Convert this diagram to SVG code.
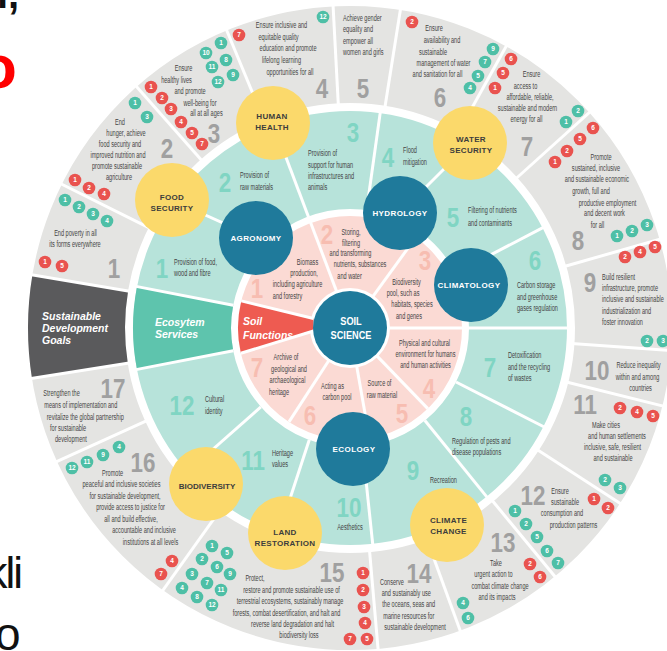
<svg xmlns="http://www.w3.org/2000/svg" width="667" height="651" viewBox="0 0 667 651">
<style>
.t{font-family:'Liberation Sans',Arial,sans-serif;font-size:9px;fill:#444}
.m{text-anchor:middle}
.n{font-family:'Liberation Sans',Arial,sans-serif;font-weight:bold;font-size:28px;text-anchor:middle}
.gn{fill:#a0a0a0}.tn{fill:#80d5c3}.pn{fill:#f7bdb1}
.rd{fill:#e9534f}.gd{fill:#4ebfa6}
.dn{font-family:'Liberation Sans',Arial,sans-serif;font-weight:bold;font-size:6.5px;fill:#fff;text-anchor:middle}
.dv{stroke:#fff;stroke-width:3;fill:none}
.yl{font-family:'Liberation Sans',Arial,sans-serif;font-weight:bold;font-size:8px;fill:#3d3d3d;text-anchor:middle;letter-spacing:.3px}
.bl{font-family:'Liberation Sans',Arial,sans-serif;font-weight:bold;font-size:8px;fill:#fff;text-anchor:middle;letter-spacing:.4px}
.bi{font-family:'Liberation Sans',Arial,sans-serif;font-weight:bold;font-style:italic;font-size:10.5px;fill:#fff}
.yc{fill:#fbd96b}.bc{fill:#1f7a9b}
</style>
<rect width="667" height="651" fill="#fff"/>
<!-- stray slide text -->
<text x="-3" y="8" font-family="'Liberation Sans',Arial,sans-serif" font-weight="bold" font-size="40" fill="#111">i,</text>
<text x="-2" y="88" font-family="'Liberation Sans',Arial,sans-serif" font-weight="bold" font-size="62" fill="#f00" text-anchor="middle">o</text>
<text x="21" y="588" font-family="'Liberation Sans',Arial,sans-serif" font-size="44" fill="#111" text-anchor="end" letter-spacing="-2">kli</text>
<text x="-5" y="650" font-family="'Liberation Sans',Arial,sans-serif" font-size="46" fill="#111">o</text>

<!-- rings -->
<g id="rings">
<circle cx="350" cy="328" r="273.5" fill="none" stroke="#e4e4e2" stroke-width="97"/>
<path d="M32.4,274.9 A322,322 0 0,0 32.0,378.4 L127.8,363.2 A225,225 0 0,1 128.1,290.9 Z" fill="#5a5a5c"/>
<circle cx="350" cy="328" r="168" fill="none" stroke="#b7e3da" stroke-width="98"/>
<path d="M137.0,286.6 A217,217 0 0,0 137.0,369.4 L233.2,350.7 A119,119 0 0,1 233.2,305.3 Z" fill="#5ec4ad"/>
<circle cx="350" cy="328" r="76" fill="none" stroke="#fbdad4" stroke-width="72"/>
<path d="M241.3,300.9 A112,112 0 0,0 240.9,353.2 L313.5,331 L313.5,318.5 Z" fill="#ee5b51"/>
</g>

<g id="connectors" class="dv">
<line x1="130.7" y1="362.7" x2="28.0" y2="379.0"/>
<line x1="131.0" y1="291.4" x2="28.5" y2="274.2"/>
<line x1="151.3" y1="228.9" x2="58.3" y2="182.5"/>
<line x1="202.9" y1="161.7" x2="134.0" y2="83.8"/>
<line x1="265.0" y1="122.9" x2="225.2" y2="26.8"/>
<line x1="338.4" y1="106.3" x2="332.9" y2="2.5"/>
<line x1="384.7" y1="108.7" x2="401.0" y2="6.0"/>
<line x1="457.6" y1="133.8" x2="508.0" y2="42.9"/>
<line x1="515.0" y1="179.5" x2="592.3" y2="109.9"/>
<line x1="563.4" y1="266.8" x2="663.4" y2="238.2"/>
<line x1="571.5" y1="343.5" x2="675.2" y2="350.7"/>
<line x1="565.4" y1="381.7" x2="666.3" y2="406.9"/>
<line x1="536.2" y1="448.9" x2="623.4" y2="505.5"/>
<line x1="491.2" y1="499.3" x2="557.4" y2="579.5"/>
<line x1="425.9" y1="536.6" x2="461.5" y2="634.3"/>
<line x1="369.4" y1="549.2" x2="378.4" y2="652.8"/>
<line x1="221.1" y1="508.7" x2="160.7" y2="593.4"/>
<line x1="148.0" y1="420.1" x2="53.3" y2="463.2"/>
<line x1="233.2" y1="350.7" x2="136.0" y2="369.6"/>
<line x1="233.2" y1="305.3" x2="136.0" y2="286.4"/>
<line x1="337.3" y1="293.2" x2="273" y2="123"/>
<line x1="366.6" y1="210.2" x2="380.3" y2="112.1"/>
<line x1="470" y1="143" x2="400" y2="213"/>
<line x1="172" y1="200" x2="256" y2="238"/>
<line x1="455.6" y1="273.1" x2="543.4" y2="227.4"/>
<line x1="387" y1="328" x2="568" y2="328"/>
<line x1="456.0" y1="382.0" x2="544.2" y2="427.0"/>
<line x1="424.9" y1="420.5" x2="487.2" y2="497.4"/>
<line x1="362.4" y1="446.3" x2="372.8" y2="544.8"/>
<line x1="309.3" y1="439.8" x2="283" y2="520"/>
<line x1="260.9" y1="406.8" x2="200.2" y2="460.5"/>
<line x1="371.7" y1="298.1" x2="415.8" y2="237.4"/>
<line x1="375.7" y1="354.6" x2="427.8" y2="408.6"/>
<line x1="356.4" y1="364.4" x2="369.4" y2="438.3"/>
<line x1="329.8" y1="359.0" x2="289.0" y2="421.9"/>
<line x1="241.3" y1="300.9" x2="313.5" y2="318.5"/>
<line x1="240.9" y1="353.2" x2="313.5" y2="331"/>
</g>

<!-- box labels -->
<g id="sdg-box"><text class="bi" x="42" y="320">Sustainable<tspan x="42" y="332">Development</tspan><tspan x="42" y="344">Goals</tspan></text></g>
<g id="es-box"><text class="bi" x="155" y="326">Ecosytem<tspan x="155" y="338">Services</tspan></text></g>
<g id="sf-box"><text class="bi" x="243" y="325">Soil<tspan x="243" y="339">Functions</tspan></text></g>

<!-- SDG texts -->
<g id="sdg-texts">
<text class="t m" transform="translate(75.5,236) scale(.62,1)"><tspan x="0" y="0">End poverty in all</tspan><tspan x="-0.8" y="11">its forms everywhere</tspan></text>
<text class="t m" transform="translate(120,125) scale(.62,1)"><tspan x="0" y="0">End</tspan><tspan x="9.7" y="11">hunger, achieve</tspan><tspan x="0" y="22">food security and</tspan><tspan x="-3.2" y="33">improved nutrition and</tspan><tspan x="-4.8" y="44">promote sustainable</tspan><tspan x="-1.6" y="55">agriculture</tspan></text>
<text class="t m" transform="translate(183.5,71) scale(.62,1)"><tspan x="0" y="0">Ensure</tspan><tspan x="-11.3" y="12">healthy lives</tspan><tspan x="10.5" y="23">and promote</tspan><tspan x="26.6" y="35">well-being for</tspan><tspan x="37" y="45.5">all at all ages</tspan></text>
<text class="t m" transform="translate(281.5,28) scale(.62,1)"><tspan x="0" y="0">Ensure inclusive and</tspan><tspan x="-4.8" y="12">equitable quality</tspan><tspan x="10.5" y="23">education and promote</tspan><tspan x="0" y="35">lifelong learning</tspan><tspan x="13.7" y="47">opportunities for all</tspan></text>
<text class="t" transform="translate(343,21) scale(.62,1)"><tspan x="0" y="0">Achieve gender</tspan><tspan x="0" y="11">equality and</tspan><tspan x="0" y="23">empower all</tspan><tspan x="0" y="34">women and girls</tspan></text>
<text class="t m" transform="translate(434,31) scale(.62,1)"><tspan x="0" y="0">Ensure</tspan><tspan x="12.9" y="12">availability and</tspan><tspan x="-1.6" y="24">sustainable</tspan><tspan x="15.3" y="35">management of water</tspan><tspan x="5.6" y="46">and sanitation for all</tspan></text>
<text class="t m" transform="translate(531.5,77) scale(.62,1)"><tspan x="0" y="0">Ensure</tspan><tspan x="-9.7" y="12">access to</tspan><tspan x="-2.4" y="23">affordable, reliable,</tspan><tspan x="-6.5" y="34">sustainable and modern</tspan><tspan x="-8.1" y="45">energy for all</tspan></text>
<text class="t m" transform="translate(601,160) scale(.62,1)"><tspan x="0" y="0">Promote</tspan><tspan x="-8.1" y="11">sustained, inclusive</tspan><tspan x="-6.5" y="22">and sustainable economic</tspan><tspan x="-16.1" y="34">growth, full and</tspan><tspan x="10.5" y="46">productive employment</tspan><tspan x="5.6" y="56">and decent work</tspan><tspan x="-5.6" y="68">for all</tspan></text>
<text class="t" transform="translate(602,280) scale(.62,1)"><tspan x="0" y="0">Build resilient</tspan><tspan x="0" y="11">infrastructure, promote</tspan><tspan x="0" y="22">inclusive and sustainable</tspan><tspan x="0" y="34">industrialization and</tspan><tspan x="0" y="45">foster innovation</tspan></text>
<text class="t m" transform="translate(638.5,368) scale(.62,1)"><tspan x="0" y="0">Reduce inequality</tspan><tspan x="-1.6" y="12">within and among</tspan><tspan x="3.2" y="23">countries</tspan></text>
<text class="t m" transform="translate(606,428) scale(.62,1)"><tspan x="0" y="0">Make cities</tspan><tspan x="17.7" y="11">and human settlements</tspan><tspan x="10.5" y="22">inclusive, safe, resilient</tspan><tspan x="11.3" y="33">and sustainable</tspan></text>
<text class="t m" transform="translate(560,494) scale(.62,1)"><tspan x="0" y="0">Ensure</tspan><tspan x="8.1" y="11">sustainable</tspan><tspan x="3.2" y="22">consumption and</tspan><tspan x="21.8" y="34">production patterns</tspan></text>
<text class="t m" transform="translate(496,566) scale(.62,1)"><tspan x="0" y="0">Take</tspan><tspan x="-4" y="11">urgent action to</tspan><tspan x="6.5" y="23">combat climate change</tspan><tspan x="1.6" y="34">and its impacts</tspan></text>
<text class="t" transform="translate(380,585) scale(.62,1)"><tspan x="0" y="0">Conserve</tspan><tspan x="2.7" y="11">and sustainably use</tspan><tspan x="3.7" y="22">the oceans, seas and</tspan><tspan x="5.3" y="34">marine resources for</tspan><tspan x="7" y="45">sustainable development</tspan></text>
<text class="t m" transform="translate(255,581) scale(.62,1)"><tspan x="0" y="0">Protect,</tspan><tspan x="58.9" y="12">restore and promote sustainable use of</tspan><tspan x="56.5" y="23">terrestrial ecosystems, sustainably manage</tspan><tspan x="50.8" y="35">forests, combat desertification, and halt and</tspan><tspan x="60.5" y="46">reverse land degradation and halt</tspan><tspan x="71" y="57">biodiversity loss</tspan></text>
<text class="t m" transform="translate(112.5,476) scale(.62,1)"><tspan x="0" y="0">Promote</tspan><tspan x="14.5" y="11">peaceful and inclusive societies</tspan><tspan x="20.2" y="23">for sustainable development,</tspan><tspan x="29" y="34">provide access to justice for</tspan><tspan x="29.8" y="46">all and build effective,</tspan><tspan x="50.8" y="57">accountable and inclusive</tspan><tspan x="61.3" y="69">institutions at all levels</tspan></text>
<text class="t" transform="translate(43.3,396) scale(.62,1)"><tspan x="0" y="0">Strengthen the</tspan><tspan x="1.6" y="12">means of implementation and</tspan><tspan x="5.5" y="24">revitalize the global partnership</tspan><tspan x="10.8" y="35">for sustainable</tspan><tspan x="18.9" y="46">development</tspan></text>
</g>

<!-- big SDG numbers -->
<g id="sdg-numbers" class="n gn">
<text transform="translate(114,278) scale(.8,1)">1</text>
<text transform="translate(167,158) scale(.8,1)">2</text>
<text transform="translate(214,143) scale(.8,1)">3</text>
<text transform="translate(322,98) scale(.8,1)">4</text>
<text transform="translate(363,98) scale(.8,1)">5</text>
<text transform="translate(440,107) scale(.8,1)">6</text>
<text transform="translate(527,156) scale(.8,1)">7</text>
<text transform="translate(578,250) scale(.8,1)">8</text>
<text transform="translate(590,292) scale(.8,1)">9</text>
<text transform="translate(597,380) scale(.8,1)">10</text>
<text transform="translate(585,414) scale(.8,1)">11</text>
<text transform="translate(533,505) scale(.8,1)">12</text>
<text transform="translate(503,552) scale(.8,1)">13</text>
<text transform="translate(419,583) scale(.8,1)">14</text>
<text transform="translate(332,582) scale(.8,1)">15</text>
<text transform="translate(143,472) scale(.8,1)">16</text>
<text transform="translate(113,398) scale(.8,1)">17</text>
</g>

<!-- ecosystem service texts -->
<g id="es-texts">
<text class="t" transform="translate(174,265) scale(.62,1)"><tspan x="0" y="0">Provision of food,</tspan><tspan x="0" y="11">wood and fibre</tspan></text>
<text class="t" transform="translate(240,178) scale(.62,1)"><tspan x="0" y="0">Provision of</tspan><tspan x="0" y="12">raw materials</tspan></text>
<text class="t" transform="translate(308,156) scale(.62,1)"><tspan x="0" y="0">Provision of</tspan><tspan x="0" y="12">support for human</tspan><tspan x="0" y="23">infrastructures and</tspan><tspan x="0" y="34">animals</tspan></text>
<text class="t" transform="translate(403,153) scale(.62,1)"><tspan x="0" y="0">Flood</tspan><tspan x="0" y="12">mitigation</tspan></text>
<text class="t" transform="translate(468,213) scale(.62,1)"><tspan x="0" y="0">Filtering of nutrients</tspan><tspan x="0" y="13">and contaminants</tspan></text>
<text class="t" transform="translate(517,288) scale(.62,1)"><tspan x="0" y="0">Carbon storage</tspan><tspan x="0" y="12">and greenhouse</tspan><tspan x="0" y="23">gases regulation</tspan></text>
<text class="t" transform="translate(508,358) scale(.62,1)"><tspan x="0" y="0">Detoxification</tspan><tspan x="0" y="12">and the recycling</tspan><tspan x="0" y="23">of wastes</tspan></text>
<text class="t" transform="translate(452,444) scale(.62,1)"><tspan x="0" y="0">Regulation of pests and</tspan><tspan x="0" y="11">disease populations</tspan></text>
<text class="t" transform="translate(430,483) scale(.62,1)">Recreation</text>
<text class="t m" transform="translate(350,530) scale(.62,1)">Aesthetics</text>
<text class="t" transform="translate(272,456) scale(.62,1)"><tspan x="0" y="0">Heritage</tspan><tspan x="0" y="11">values</tspan></text>
<text class="t" transform="translate(205,402) scale(.62,1)"><tspan x="0" y="0">Cultural</tspan><tspan x="0" y="12">identity</tspan></text>
</g>
<g id="es-numbers" class="n tn">
<text transform="translate(162,278) scale(.8,1)">1</text>
<text transform="translate(225,192) scale(.8,1)">2</text>
<text transform="translate(353,142) scale(.8,1)">3</text>
<text transform="translate(388,167) scale(.8,1)">4</text>
<text transform="translate(453,227) scale(.8,1)">5</text>
<text transform="translate(535,270) scale(.8,1)">6</text>
<text transform="translate(490,377) scale(.8,1)">7</text>
<text transform="translate(466,426) scale(.8,1)">8</text>
<text transform="translate(413,480) scale(.8,1)">9</text>
<text transform="translate(349,517) scale(.8,1)">10</text>
<text transform="translate(253,470) scale(.8,1)">11</text>
<text transform="translate(182,415) scale(.8,1)">12</text>
</g>

<!-- soil function texts -->
<g id="sf-texts">
<text class="t m" transform="translate(307.5,265) scale(.62,1)"><tspan x="0" y="0">Biomass</tspan><tspan x="-5.6" y="11">production,</tspan><tspan x="-16.1" y="22">including agriculture</tspan><tspan x="-32.3" y="34">and forestry</tspan></text>
<text class="t m" transform="translate(351,235) scale(.62,1)"><tspan x="0" y="0">Storing,</tspan><tspan x="0" y="11">filtering</tspan><tspan x="-0.8" y="21.5">and transforming</tspan><tspan x="14.5" y="32.5">nutrients, substances</tspan><tspan x="-2.4" y="44">and water</tspan></text>
<text class="t m" transform="translate(406.5,285) scale(.62,1)"><tspan x="0" y="0">Biodiversity</tspan><tspan x="-5.6" y="11">pool, such as</tspan><tspan x="8.9" y="22">habitats, species</tspan><tspan x="4" y="34">and genes</tspan></text>
<text class="t m" transform="translate(424.5,346) scale(.62,1)"><tspan x="0" y="0">Physical and cultural</tspan><tspan x="1.6" y="11">environment for humans</tspan><tspan x="1.6" y="22">and human activities</tspan></text>
<text class="t m" transform="translate(379.5,386) scale(.62,1)"><tspan x="0" y="0">Source of</tspan><tspan x="4" y="12">raw material</tspan></text>
<text class="t m" transform="translate(332.5,389) scale(.62,1)"><tspan x="0" y="0">Acting as</tspan><tspan x="7.3" y="11">carbon pool</tspan></text>
<text class="t m" transform="translate(286,360) scale(.62,1)"><tspan x="0" y="0">Archive of</tspan><tspan x="4.8" y="12">geological and</tspan><tspan x="2.4" y="23">archaeological</tspan><tspan x="-11.3" y="35">heritage</tspan></text>
</g>
<g id="sf-numbers" class="n pn">
<text transform="translate(257,298) scale(.8,1)">1</text>
<text transform="translate(327,244) scale(.8,1)">2</text>
<text transform="translate(425,270) scale(.8,1)">3</text>
<text transform="translate(429,398) scale(.8,1)">4</text>
<text transform="translate(402,423) scale(.8,1)">5</text>
<text transform="translate(310,425) scale(.8,1)">6</text>
<text transform="translate(257,377) scale(.8,1)">7</text>
</g>

<!-- SDG dots -->
<g id="dots">
<circle class="gd" cx="65" cy="200" r="6.3"/><text class="dn" x="65" y="202.3">1</text>
<circle class="gd" cx="79" cy="207" r="6.3"/><text class="dn" x="79" y="209.3">2</text>
<circle class="gd" cx="93" cy="214" r="6.3"/><text class="dn" x="93" y="216.3">3</text>
<circle class="gd" cx="107" cy="221" r="6.3"/><text class="dn" x="107" y="223.3">4</text>
<circle class="rd" cx="45" cy="262" r="6.3"/><text class="dn" x="45" y="264.3">1</text>
<circle class="rd" cx="62" cy="266" r="6.3"/><text class="dn" x="62" y="268.3">5</text>
<circle class="gd" cx="135" cy="103" r="6.3"/><text class="dn" x="135" y="105.3">1</text>
<circle class="gd" cx="147" cy="117" r="6.3"/><text class="dn" x="147" y="119.3">3</text>
<circle class="rd" cx="75" cy="180" r="6.3"/><text class="dn" x="75" y="182.3">1</text>
<circle class="rd" cx="89" cy="188" r="6.3"/><text class="dn" x="89" y="190.3">2</text>
<circle class="rd" cx="104" cy="194" r="6.3"/><text class="dn" x="104" y="196.3">4</text>
<circle class="rd" cx="151" cy="87" r="6.3"/><text class="dn" x="151" y="89.3">1</text>
<circle class="rd" cx="162" cy="98" r="6.3"/><text class="dn" x="162" y="100.3">2</text>
<circle class="rd" cx="171" cy="109" r="6.3"/><text class="dn" x="171" y="111.3">3</text>
<circle class="rd" cx="181" cy="122" r="6.3"/><text class="dn" x="181" y="124.3">4</text>
<circle class="rd" cx="192" cy="133" r="6.3"/><text class="dn" x="192" y="135.3">5</text>
<circle class="rd" cx="202" cy="144" r="6.3"/><text class="dn" x="202" y="146.3">7</text>
<circle class="gd" cx="221" cy="43" r="6.3"/><text class="dn" x="221" y="45.3">1</text>
<circle class="gd" cx="206" cy="53" r="6.3"/><text class="dn" x="206" y="55.3">10</text>
<circle class="gd" cx="226" cy="60" r="6.3"/><text class="dn" x="226" y="62.3">8</text>
<circle class="gd" cx="212" cy="67" r="6.3"/><text class="dn" x="212" y="69.3">11</text>
<circle class="gd" cx="233" cy="75" r="6.3"/><text class="dn" x="233" y="77.3">9</text>
<circle class="gd" cx="218" cy="82" r="6.3"/><text class="dn" x="218" y="84.3">12</text>
<circle class="rd" cx="239" cy="35" r="6.3"/><text class="dn" x="239" y="37.3">7</text>
<circle class="gd" cx="323" cy="17" r="6.3"/><text class="dn" x="323" y="19.3">12</text>
<circle class="rd" cx="412" cy="22" r="6.3"/><text class="dn" x="412" y="24.3">2</text>
<circle class="gd" cx="493" cy="49" r="6.3"/><text class="dn" x="493" y="51.3">9</text>
<circle class="gd" cx="485" cy="62" r="6.3"/><text class="dn" x="485" y="64.3">7</text>
<circle class="gd" cx="478" cy="76" r="6.3"/><text class="dn" x="478" y="78.3">5</text>
<circle class="gd" cx="470" cy="88" r="6.3"/><text class="dn" x="470" y="90.3">4</text>
<circle class="rd" cx="511" cy="59" r="6.3"/><text class="dn" x="511" y="61.3">6</text>
<circle class="rd" cx="503" cy="73" r="6.3"/><text class="dn" x="503" y="75.3">5</text>
<circle class="rd" cx="495" cy="88" r="6.3"/><text class="dn" x="495" y="90.3">1</text>
<circle class="gd" cx="578" cy="111" r="6.3"/><text class="dn" x="578" y="113.3">2</text>
<circle class="gd" cx="566" cy="122" r="6.3"/><text class="dn" x="566" y="124.3">1</text>
<circle class="rd" cx="593" cy="128" r="6.3"/><text class="dn" x="593" y="130.3">6</text>
<circle class="rd" cx="580" cy="139" r="6.3"/><text class="dn" x="580" y="141.3">5</text>
<circle class="rd" cx="567" cy="151" r="6.3"/><text class="dn" x="567" y="153.3">2</text>
<circle class="rd" cx="555" cy="162" r="6.3"/><text class="dn" x="555" y="164.3">1</text>
<circle class="gd" cx="617" cy="236" r="6.3"/><text class="dn" x="617" y="238.3">1</text>
<circle class="gd" cx="632" cy="231" r="6.3"/><text class="dn" x="632" y="233.3">2</text>
<circle class="gd" cx="647" cy="225" r="6.3"/><text class="dn" x="647" y="227.3">3</text>
<circle class="rd" cx="625" cy="257" r="6.3"/><text class="dn" x="625" y="259.3">2</text>
<circle class="rd" cx="640" cy="252" r="6.3"/><text class="dn" x="640" y="254.3">4</text>
<circle class="rd" cx="655" cy="247" r="6.3"/><text class="dn" x="655" y="249.3">5</text>
<circle class="gd" cx="647" cy="341" r="6.3"/><text class="dn" x="647" y="343.3">2</text>
<circle class="gd" cx="663" cy="341" r="6.3"/><text class="dn" x="663" y="343.3">3</text>
<circle class="rd" cx="620" cy="408" r="6.3"/><text class="dn" x="620" y="410.3">2</text>
<circle class="rd" cx="637" cy="412" r="6.3"/><text class="dn" x="637" y="414.3">4</text>
<circle class="rd" cx="653" cy="416" r="6.3"/><text class="dn" x="653" y="418.3">5</text>
<circle class="gd" cx="605" cy="480" r="6.3"/><text class="dn" x="605" y="482.3">2</text>
<circle class="gd" cx="620" cy="488" r="6.3"/><text class="dn" x="620" y="490.3">3</text>
<circle class="rd" cx="594" cy="499" r="6.3"/><text class="dn" x="594" y="501.3">1</text>
<circle class="rd" cx="608" cy="508" r="6.3"/><text class="dn" x="608" y="510.3">2</text>
<circle class="gd" cx="515" cy="511" r="6.3"/><text class="dn" x="515" y="513.3">1</text>
<circle class="gd" cx="526" cy="524" r="6.3"/><text class="dn" x="526" y="526.3">2</text>
<circle class="gd" cx="537" cy="537" r="6.3"/><text class="dn" x="537" y="539.3">5</text>
<circle class="gd" cx="547" cy="551" r="6.3"/><text class="dn" x="547" y="553.3">6</text>
<circle class="gd" cx="558" cy="563" r="6.3"/><text class="dn" x="558" y="565.3">7</text>
<circle class="rd" cx="530" cy="564" r="6.3"/><text class="dn" x="530" y="566.3">2</text>
<circle class="rd" cx="540" cy="577" r="6.3"/><text class="dn" x="540" y="579.3">6</text>
<circle class="gd" cx="463" cy="603" r="6.3"/><text class="dn" x="463" y="605.3">4</text>
<circle class="gd" cx="468" cy="618" r="6.3"/><text class="dn" x="468" y="620.3">6</text>
<circle class="rd" cx="363" cy="573" r="6.3"/><text class="dn" x="363" y="575.3">1</text>
<circle class="rd" cx="363" cy="590" r="6.3"/><text class="dn" x="363" y="592.3">2</text>
<circle class="rd" cx="364" cy="607" r="6.3"/><text class="dn" x="364" y="609.3">3</text>
<circle class="rd" cx="365" cy="623" r="6.3"/><text class="dn" x="365" y="625.3">4</text>
<circle class="rd" cx="367" cy="639" r="6.3"/><text class="dn" x="367" y="641.3">5</text>
<circle class="rd" cx="350" cy="639" r="6.3"/><text class="dn" x="350" y="641.3">7</text>
<circle class="gd" cx="212" cy="546" r="6.3"/><text class="dn" x="212" y="548.3">1</text>
<circle class="gd" cx="227" cy="553" r="6.3"/><text class="dn" x="227" y="555.3">5</text>
<circle class="gd" cx="202" cy="559" r="6.3"/><text class="dn" x="202" y="561.3">2</text>
<circle class="gd" cx="217" cy="567" r="6.3"/><text class="dn" x="217" y="569.3">6</text>
<circle class="gd" cx="230" cy="574" r="6.3"/><text class="dn" x="230" y="576.3">9</text>
<circle class="gd" cx="192" cy="574" r="6.3"/><text class="dn" x="192" y="576.3">3</text>
<circle class="gd" cx="207" cy="583" r="6.3"/><text class="dn" x="207" y="585.3">7</text>
<circle class="gd" cx="221" cy="590" r="6.3"/><text class="dn" x="221" y="592.3">11</text>
<circle class="gd" cx="182" cy="588" r="6.3"/><text class="dn" x="182" y="590.3">4</text>
<circle class="gd" cx="197" cy="597" r="6.3"/><text class="dn" x="197" y="599.3">8</text>
<circle class="gd" cx="212" cy="605" r="6.3"/><text class="dn" x="212" y="607.3">12</text>
<circle class="gd" cx="72" cy="468" r="6.3"/><text class="dn" x="72" y="470.3">12</text>
<circle class="gd" cx="87" cy="462" r="6.3"/><text class="dn" x="87" y="464.3">11</text>
<circle class="gd" cx="103" cy="455" r="6.3"/><text class="dn" x="103" y="457.3">9</text>
<circle class="gd" cx="119" cy="447" r="6.3"/><text class="dn" x="119" y="449.3">4</text>
<circle class="rd" cx="172" cy="561" r="6.3"/><text class="dn" x="172" y="563.3">4</text>
<circle class="rd" cx="161" cy="574" r="6.3"/><text class="dn" x="161" y="576.3">7</text>
</g>

<!-- discipline nodes -->
<g id="agronomy"><circle class="bc" cx="256" cy="238" r="37"/><text class="bl" x="256" y="241">AGRONOMY</text></g>
<g id="hydrology"><circle class="bc" cx="400" cy="213" r="37"/><text class="bl" x="400" y="216">HYDROLOGY</text></g>
<g id="climatology"><circle class="bc" cx="471" cy="285" r="37"/><text class="bl" x="469" y="288">CLIMATOLOGY</text></g>
<g id="ecology"><circle class="bc" cx="353" cy="449" r="37"/><text class="bl" x="354" y="452">ECOLOGY</text></g>
<g id="soil-science"><circle class="bc" cx="350" cy="328" r="37"/><text font-family="'Liberation Sans',Arial,sans-serif" font-weight="bold" font-size="11.5" fill="#fff" text-anchor="middle" transform="translate(351,325) scale(.8,1)"><tspan x="0" y="0">SOIL</tspan><tspan x="0" y="14">SCIENCE</tspan></text></g>

<!-- challenge nodes -->
<g id="food-security"><circle class="yc" cx="172" cy="200" r="37"/><text class="yl" x="172" y="199.5">FOOD<tspan x="172" y="210.5">SECURITY</tspan></text></g>
<g id="human-health"><circle class="yc" cx="273" cy="123" r="37"/><text class="yl" x="272" y="118.5">HUMAN<tspan x="272" y="129.5">HEALTH</tspan></text></g>
<g id="water-security"><circle class="yc" cx="470" cy="143" r="37"/><text class="yl" x="471" y="141.5">WATER<tspan x="471" y="152.5">SECURITY</tspan></text></g>
<g id="climate-change"><circle class="yc" cx="447" cy="525" r="37"/><text class="yl" x="448.5" y="522.5">CLIMATE<tspan x="448.5" y="533.5">CHANGE</tspan></text></g>
<g id="land-restoration"><circle class="yc" cx="285" cy="533" r="37"/><text class="yl" x="285" y="534.5">LAND<tspan x="285" y="545.5">RESTORATION</tspan></text></g>
<g id="biodiversity"><circle class="yc" cx="206" cy="484" r="37"/><text class="yl" x="207" y="488.5" style="letter-spacing:0">BIODIVERSITY</text></g>
</svg>
